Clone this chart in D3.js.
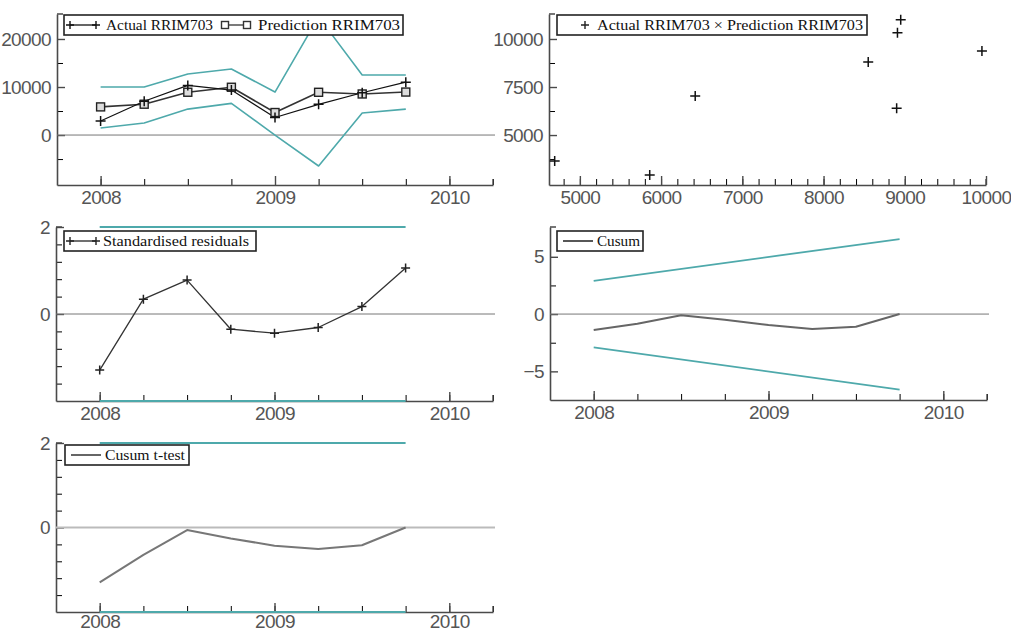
<!DOCTYPE html>
<html lang="en">
<head>
<meta charset="UTF-8">
<title>RRIM703 forecast diagnostics</title>
<script src="https://d3js.org/d3.v7.min.js"></script>
<style>
  body { margin: 0; background: #fff; }
  svg { display: block; }
</style>
</head>
<body>
<div id="chart"></div>
<script>
// quarterly observations
const quarters = [2008, 2008.25, 2008.5, 2008.75, 2009, 2009.25, 2009.5, 2009.75];
const actual = [2920, 7030, 10330, 9370, 3650, 6400, 8800, 11000];
const prediction = [5860, 6420, 8910, 9950, 4690, 8900, 8550, 8950];
const upperBand = [10000, 10000, 12700, 13750, 8950, 24600, 12500, 12500];
const lowerBand = [1460, 2500, 5400, 6600, 0, -6450, 4600, 5400];
const residuals = [-1.29, 0.34, 0.78, -0.35, -0.44, -0.31, 0.17, 1.06];
const cusum = [-1.4, -0.85, -0.1, -0.5, -0.96, -1.3, -1.1, 0];
const cusumT = [-1.3, -0.65, -0.06, -0.26, -0.43, -0.51, -0.42, 0];
const bandYears = [2008, 2009.75];
const cusumUpper = [2.9, 6.55];
const cusumLower = [-2.9, -6.6];
const residBand = [2, 2];

// tick labels
const yearTicks = [2008, 2009, 2010];
const quarterTicks = d3.range(2008, 2010.3, 0.25);
const levelTicks = [0, 10000, 20000];
const scatterXTicks = [5000, 6000, 7000, 8000, 9000, 10000];
const scatterYTicks = [5000, 7500, 10000];
const residTicks = [0, 2];
const cusumTicks = [-5, 0, 5];

const teal = "#4ea9ab";
const axisCol = "#4a4a4a";
const labelCol = "#555";

const svg = d3.select("#chart").append("svg")
  .attr("width", 1011).attr("height", 633);

function plus(s) {
  return `M${-s},0H${s}M0,${-s}V${s}`;
}

// draws axes for a panel, returns {g, x, y}
function panel(box, xDomain, yDomain, xMajor, xMinor, yMajor, yMinor, xFmt, xPad = 6) {
  const x = d3.scaleLinear().domain(xDomain).range([box.left, box.right]);
  const y = d3.scaleLinear().domain(yDomain).range([box.bottom, box.top]);
  const g = svg.append("g");

  // minor ticks
  g.append("g")
    .attr("transform", `translate(0,${box.bottom})`)
    .call(d3.axisBottom(x).tickValues(xMinor).tickSize(-6).tickSizeOuter(0).tickFormat(""))
    .call(a => a.select(".domain").remove());
  g.append("g")
    .attr("transform", `translate(${box.left},0)`)
    .call(d3.axisLeft(y).tickValues(yMinor).tickSize(-6).tickSizeOuter(0).tickFormat(""))
    .call(a => a.select(".domain").remove());

  // major ticks + labels
  const xa = g.append("g")
    .attr("transform", `translate(0,${box.bottom})`)
    .call(d3.axisBottom(x).tickValues(xMajor).tickSize(-9).tickSizeOuter(0)
      .tickPadding(xPad).tickFormat(xFmt));
  const ya = g.append("g")
    .attr("transform", `translate(${box.left},0)`)
    .call(d3.axisLeft(y).tickValues(yMajor).tickSize(-8).tickSizeOuter(0)
      .tickPadding(6).tickFormat(d3.format("d")));
  [xa, ya].forEach(a => {
    a.attr("font-family", "'Liberation Sans', Arial, sans-serif")
      .attr("font-size", 19).attr("color", axisCol);
    a.selectAll("text").attr("fill", labelCol).attr("letter-spacing", "-0.6px");
    a.select(".domain").attr("stroke-width", 1.6);
    a.selectAll(".tick line").attr("stroke-width", 1.4);
  });

  // caps at the ends of the axes
  g.append("path")
    .attr("d", `M${box.left},${box.top}h6M${box.right},${box.bottom}v-6`)
    .attr("stroke", axisCol).attr("stroke-width", 1.4).attr("fill", "none");
  return { g, x, y };
}

function zeroLine(p, box, col, w) {
  p.g.append("line")
    .attr("x1", box.left).attr("x2", box.right + 2)
    .attr("y1", p.y(0)).attr("y2", p.y(0))
    .attr("stroke", col).attr("stroke-width", w);
}

function drawLine(p, xs, ys, col, w) {
  const line = d3.line().x((d, i) => p.x(xs[i])).y(d => p.y(d));
  p.g.append("path").datum(ys)
    .attr("d", line).attr("fill", "none")
    .attr("stroke", col).attr("stroke-width", w)
    .attr("stroke-linejoin", "round");
}

function drawPlus(p, xs, ys, s, col) {
  p.g.append("g").selectAll("path").data(ys).join("path")
    .attr("transform", (d, i) => `translate(${p.x(xs[i])},${p.y(d)})`)
    .attr("d", plus(s)).attr("stroke", col).attr("stroke-width", 1.5);
}

function legend(g, x, y, w, items) {
  const lg = g.append("g").attr("transform", `translate(${x},${y})`);
  lg.append("rect").attr("width", w).attr("height", 20)
    .attr("fill", "#fff").attr("stroke", "#222").attr("stroke-width", 1.6);
  items.forEach(it => {
    const ig = lg.append("g").attr("transform", `translate(${it.x},10)`);
    if (it.kind === "plusline" || it.kind === "boxline" || it.kind === "line") {
      ig.append("line").attr("x1", 0).attr("x2", it.len)
        .attr("stroke", it.col).attr("stroke-width", it.kind === "line" ? 1.8 : 1.3);
    }
    if (it.kind === "plusline") {
      [0, it.len].forEach(px => ig.append("path").attr("d", plus(4))
        .attr("transform", `translate(${px},0)`).attr("stroke", it.col).attr("stroke-width", 1.4));
    }
    if (it.kind === "boxline") {
      [0, it.len].forEach(px => ig.append("rect").attr("x", px - 3.5).attr("y", -3.5)
        .attr("width", 7).attr("height", 7).attr("fill", "#fff")
        .attr("stroke", it.col).attr("stroke-width", 1.4));
    }
    if (it.kind === "plus") {
      ig.append("path").attr("d", plus(4)).attr("stroke", "#222").attr("stroke-width", 1.4);
    }
    ig.append("text").attr("x", it.tx).attr("y", 5)
      .attr("font-family", "'Liberation Serif', 'Times New Roman', serif")
      .attr("font-size", 15).attr("fill", "#111")
      .attr("textLength", it.tw).attr("lengthAdjust", "spacingAndGlyphs")
      .text(it.label);
  });
}

const yearFmt = d3.format("d");

// --- panel 1: actual and prediction with bands
const b1 = { left: 57, right: 493, top: 14, bottom: 185 };
const p1 = panel(b1, [2007.75, 2010.25], [-10400, 25200], yearTicks, quarterTicks,
  levelTicks, [-5000, 5000, 15000], yearFmt);
zeroLine(p1, b1, "#777", 1);
drawLine(p1, quarters, upperBand, teal, 1.6);
drawLine(p1, quarters, lowerBand, teal, 1.6);
drawLine(p1, quarters, prediction, "#333", 1.6);
drawLine(p1, quarters, actual, "#111", 1.2);
p1.g.append("g").selectAll("rect").data(prediction).join("rect")
  .attr("x", (d, i) => p1.x(quarters[i]) - 4).attr("y", d => p1.y(d) - 4)
  .attr("width", 8).attr("height", 8)
  .attr("fill", "#ddd").attr("stroke", "#222").attr("stroke-width", 1.4);
drawPlus(p1, quarters, actual, 5, "#111");
legend(p1.g, 64, 15, 339, [
  { kind: "plusline", x: 6, len: 26, col: "#111", tx: 36, tw: 107, label: "Actual RRIM703" },
  { kind: "boxline", x: 161, len: 22, col: "#333", tx: 33, tw: 142, label: "Prediction RRIM703" }
]);

// --- panel 2: scatter actual vs prediction
const b2 = { left: 549, right: 986, top: 14, bottom: 185 };
const p2 = panel(b2, [4620, 10000], [2400, 11300], scatterXTicks,
  d3.range(4800, 10001, 200), scatterYTicks, [3750, 6250, 8750], d3.format("d"));
p2.g.append("g").selectAll("path").data(actual).join("path")
  .attr("transform", (d, i) => `translate(${p2.x(prediction[i])},${p2.y(d)})`)
  .attr("d", plus(5)).attr("stroke", "#111").attr("stroke-width", 1.5);
legend(p2.g, 557, 15, 310, [
  { kind: "plus", x: 28, tx: 12, tw: 266, label: "Actual RRIM703 \u00d7 Prediction RRIM703" }
]);

// --- panel 3: standardised residuals
const b3 = { left: 56, right: 493, top: 227, bottom: 401 };
const p3 = panel(b3, [2007.75, 2010.25], [-2, 2], yearTicks, quarterTicks,
  residTicks, [-1.6, -1.2, -0.8, -0.4, 0.4, 0.8, 1.2, 1.6], yearFmt);
zeroLine(p3, b3, "#777", 1);
drawLine(p3, bandYears, residBand, teal, 1.8);
drawLine(p3, bandYears, residBand.map(v => -v), teal, 1.8);
drawLine(p3, quarters, residuals, "#333", 1.3);
drawPlus(p3, quarters, residuals, 4.5, "#222");
legend(p3.g, 64, 231, 192, [
  { kind: "plusline", x: 6, len: 26, col: "#222", tx: 33, tw: 146, label: "Standardised residuals" }
]);

// --- panel 4: cusum
const b4 = { left: 550, right: 987, top: 227, bottom: 400 };
const p4 = panel(b4, [2007.75, 2010.25], [-7.5, 7.6], yearTicks, quarterTicks,
  cusumTicks, [-2.5, 2.5], yearFmt);
zeroLine(p4, b4, "#777", 1);
drawLine(p4, bandYears, cusumUpper, teal, 1.8);
drawLine(p4, bandYears, cusumLower, teal, 1.8);
drawLine(p4, quarters, cusum, "#666", 2);
legend(p4.g, 557, 231, 86, [
  { kind: "line", x: 6, len: 30, col: "#444", tx: 34, tw: 43, label: "Cusum" }
]);

// --- panel 5: cusum t-test (labels pulled up a little so they stay on the page)
const b5 = { left: 56, right: 493, top: 443, bottom: 612 };
const p5 = panel(b5, [2007.75, 2010.25], [-2, 2], yearTicks, quarterTicks,
  residTicks, [-1.6, -1.2, -0.8, -0.4, 0.4, 0.8, 1.2, 1.6], yearFmt, 2);
zeroLine(p5, b5, "#bbb", 2);
drawLine(p5, bandYears, residBand, teal, 1.8);
drawLine(p5, bandYears, residBand.map(v => -v), teal, 1.8);
drawLine(p5, quarters, cusumT, "#777", 2);
legend(p5.g, 65, 445, 124, [
  { kind: "line", x: 6, len: 30, col: "#555", tx: 34, tw: 80, label: "Cusum t-test" }
]);
</script>
</body>
</html>
